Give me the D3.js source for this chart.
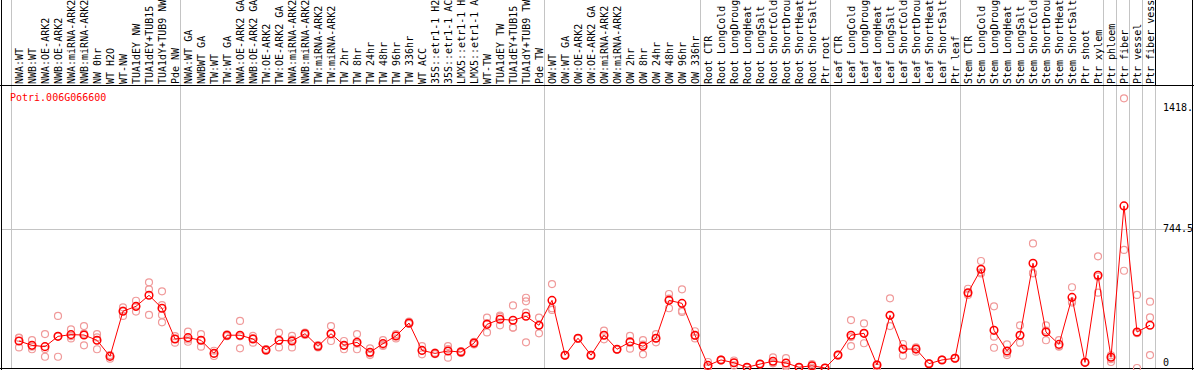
<!DOCTYPE html>
<html>
<head>
<meta charset="utf-8">
<script src="https://cdn.jsdelivr.net/npm/d3@7"></script>
<style>
    body{ margin:0; background:#fff; }
    svg{ display:block; }
    text{ font-family:"DejaVu Sans Mono", monospace; font-size:10px; }
</style>
</head>
<body>
<div id="chart"></div>
<script>
var geneName = "Potri.006G066600";

var sampleLabels = [
    "NWA:WT","NWB:WT","NWA:OE-ARK2","NWB:OE-ARK2","NWA:miRNA-ARK2","NWB:miRNA-ARK2","NW 0hr","WT H2O","WT-NW","TUA1dEY NW","TUA1dEY+TUB15","TUA1dY+TUB9 NW","Pde NW",
    "NWA:WT GA","NWBWT GA","TW:WT","TW:WT GA","NWA:OE-ARK2 GA","NWB:OE-ARK2 GA","TW:OE-ARK2","TW:OE-ARK2 GA","NWA:miRNA-ARK2","NWB:miRNA-ARK2","TW:miRNA-ARK2","TW:miRNA-ARK2",
    "TW 2hr","TW 8hr","TW 24hr","TW 48hr","TW 96hr","TW 336hr","WT ACC","35S::etr1-1 H2O","35S::etr1-1 ACC","LMX5::etr1-1 H2O","LMX5::etr1-1 ACC","WT-TW","TUA1dEY TW","TUA1dEY+TUB15","TUA1dY+TUB9 TW","Pde TW",
    "OW:WT","OW:WT GA","OW:OE-ARK2","OW:OE-ARK2 GA","OW:miRNA-ARK2","OW:miRNA-ARK2","OW 2hr","OW 8hr","OW 24hr","OW 48hr","OW 96hr","OW 336hr",
    "Root CTR","Root LongCold","Root LongDrought","Root LongHeat","Root LongSalt","Root ShortCold","Root ShortDrought","Root ShortHeat","Root ShortSalt","Ptr root",
    "Leaf CTR","Leaf LongCold","Leaf LongDrought","Leaf LongHeat","Leaf LongSalt","Leaf ShortCold","Leaf ShortDrought","Leaf ShortHeat","Leaf ShortSalt","Ptr leaf",
    "Stem CTR","Stem LongCold","Stem LongDrought","Stem LongHeat","Stem LongSalt","Stem ShortCold","Stem ShortDrought","Stem ShortHeat","Stem ShortSalt","Ptr shoot","Ptr xylem",
    "Ptr phloem","Ptr fiber","Ptr vessel","Ptr fiber vessel"
];

//Number of samples in each group, a grey line is drawn between groups
var groupSizes = [13, 28, 12, 10, 10, 11, 1, 1, 1, 1];

var meanValues = [
    144,121,114,169,178,176,148,62,303,329,388,319,155,
    162,148,78,175,175,155,96,148,144,183,116,183,121,137,84,130,171,240,94,78,91,85,133,233,260,255,276,228,
    361,68,159,68,175,100,139,116,159,361,345,175,
    14,43,28,4,21,36,27,4,12,0,
    69,175,185,16,281,101,101,23,43,52,
    402,527,201,91,175,559,192,126,377,30,495,
    57,865,192,228
];

var replicateValues = [
    [162,160,110],[149,114,100],[181,101,60],[278,169,60],[206,170,158],[224,183,121],[181,163,100],[69,67,50],[324,307,278],[359,327,301],[457,420,283],[409,336,283,244],[170,155,135],
    [194,152,140],[181,149,114],[92,78,64],[180,175,170],[251,169,105],[171,159,135],[101,96,92],[189,145,110],[171,151,110],[189,184,176],[122,116,110],[224,181,144],[144,119,100],[181,130,100],[105,78,69],[149,123,118],[181,174,158],[247,240,235],[117,92,73],[82,78,74],[117,101,55],[90,85,80],[140,133,126],[269,240,190],[279,273,228],[334,216,215],[375,356,295,137],[269,228,185],
    [448,319,310],[70,68,66],[160,158,156],[70,66,68],[199,175,153],[100,100,98],[171,143,103],[149,125,73],[181,159,137],[395,370,319],[420,306,299],[196,171,158],
    [32,4,6],[45,43,40],[40,28,14],[4,2,5],[21,20,22],[57,28,25],[53,15,7],[4,2,5],[21,12,2],[0,0,1],
    [72,69,66],[256,165,117],[238,185,132],[20,16,2],[372,281,224],[128,101,66],[110,101,87],[23,22,25],[43,43,45],[52,50,54],
    [423,399,390],[571,505,510],[329,167,108],[126,80,69],[228,175,135],[665,507,505],[228,200,148],[149,114,117],[431,349,355],[30,30,32],[596,487,402],
    [68,47,32],[1439,630,519],[390,186,0],[354,270,69]
];

var yMax = 1489;
var yTicks = [0, 744.5, 1418];
var yTickLabels = ["0", "744.5", "1418."];

var width = 1194;
var height = 370;
var headerBottom = 85.5;
var plotBottom = 368.5;
var plotRight = 1155;

var svg = d3.select("#chart")
    .append("svg")
    .attr("width", width)
    .attr("height", height);

//Column edges, each sample gets 13px
var x = d3.scaleLinear()
    .domain([0, sampleLabels.length])
    .range([11, plotRight]);

var y = d3.scaleLinear()
    .domain([0, yMax])
    .range([368, 89]);

function cx( i ){
    return x(i) + 8;
}

//Group separators
var groupStarts = [0];
groupSizes.forEach(function( n ){
    groupStarts.push(groupStarts[groupStarts.length - 1] + n);
});

svg.append("g")
    .selectAll("line")
    .data(groupStarts)
    .enter()
    .append("line")
    .attr("x1", function(d){ return Math.round(x(d)) + 0.5; })
    .attr("x2", function(d){ return Math.round(x(d)) + 0.5; })
    .attr("y1", 0)
    .attr("y2", plotBottom)
    .attr("stroke", "#c4c4c4")
    .attr("shape-rendering", "crispEdges");

//Mid grid line
svg.append("line")
    .attr("x1", 1)
    .attr("x2", 1192)
    .attr("y1", Math.round(y(744.5)) + 0.5)
    .attr("y2", Math.round(y(744.5)) + 0.5)
    .attr("stroke", "#c4c4c4")
    .attr("shape-rendering", "crispEdges");

//Frame
var frame = svg.append("g")
    .attr("stroke", "#000")
    .attr("shape-rendering", "crispEdges");
frame.append("line").attr("x1", 0).attr("x2", width).attr("y1", headerBottom).attr("y2", headerBottom);
frame.append("line").attr("x1", 0).attr("x2", width).attr("y1", plotBottom).attr("y2", plotBottom);
frame.append("line").attr("x1", 1.5).attr("x2", 1.5).attr("y1", 0).attr("y2", height);
frame.append("line").attr("x1", 1192.5).attr("x2", 1192.5).attr("y1", 0).attr("y2", height);
frame.append("line").attr("x1", plotRight + 0.5).attr("x2", plotRight + 0.5).attr("y1", 0).attr("y2", headerBottom);

//Sample labels, rotated in the header
svg.append("g")
    .selectAll("text")
    .data(sampleLabels)
    .enter()
    .append("text")
    .attr("transform", function(d, i){ return "translate(" + (cx(i) + 4) + ",84) rotate(-90)"; })
    .attr("fill", "#000")
    .text(function(d){ return d; });

//Gene name
svg.append("text")
    .attr("x", 10)
    .attr("y", 101)
    .attr("fill", "#ff0000")
    .text(geneName);

//Y axis on the right
var axis = svg.append("g")
    .attr("transform", "translate(1160,0)")
    .call(d3.axisRight(y)
        .tickValues(yTicks)
        .tickFormat(function(d, i){ return yTickLabels[i]; })
        .tickSize(0)
        .tickPadding(3));
axis.select(".domain").remove();
axis.selectAll("text")
    .attr("fill", "#000")
    .attr("font-family", "DejaVu Sans Mono, monospace")
    .attr("font-size", 10)
    .attr("dy", function(d, i){ return ["-0.25em", "0.32em", "0.8em"][i]; });

//Replicate points
var repPoints = [];
replicateValues.forEach(function( reps, i ){
    reps.forEach(function( v ){
        repPoints.push({ i: i, v: v });
    });
});

svg.append("g")
    .selectAll("circle")
    .data(repPoints)
    .enter()
    .append("circle")
    .attr("cx", function(d){ return cx(d.i); })
    .attr("cy", function(d){ return y(d.v); })
    .attr("r", 3.5)
    .attr("fill", "none")
    .attr("stroke", "#f09a9a")
    .attr("stroke-width", 1.2);

//Mean line and points
var line = d3.line()
    .x(function(d, i){ return cx(i); })
    .y(function(d){ return y(d); });

svg.append("path")
    .datum(meanValues)
    .attr("d", line)
    .attr("fill", "none")
    .attr("stroke", "#ff0000")
    .attr("stroke-width", 1);

svg.append("g")
    .selectAll("circle")
    .data(meanValues)
    .enter()
    .append("circle")
    .attr("cx", function(d, i){ return cx(i); })
    .attr("cy", function(d){ return y(d); })
    .attr("r", 3.8)
    .attr("fill", "none")
    .attr("stroke", "#ff0000")
    .attr("stroke-width", 1.5);
</script>
</body>
</html>
